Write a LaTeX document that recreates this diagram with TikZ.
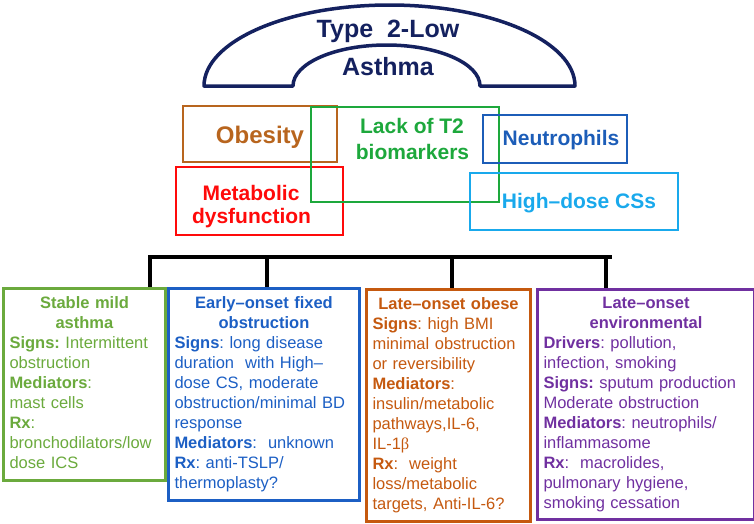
\documentclass[tikz,border=0pt]{standalone}
\usepackage{fontspec}
\setmainfont{Liberation Sans}
\newfontfamily\grkfont{Liberation Serif}
\setlength{\parindent}{0pt}
\frenchspacing
\definecolor{navy}{HTML}{14215F}
\definecolor{obes}{HTML}{B8651E}
\definecolor{ttwo}{HTML}{1DA83C}
\definecolor{neut}{HTML}{1C5DB8}
\definecolor{metab}{HTML}{FF0A0A}
\definecolor{hdose}{HTML}{19A9EC}
\definecolor{cgreen}{HTML}{6BAA3D}
\definecolor{cblue}{HTML}{1C5FC4}
\definecolor{corange}{HTML}{C5590F}
\definecolor{cpurple}{HTML}{7030A0}
\begin{document}
\begin{tikzpicture}[x=1pt,y=-1pt,
  titletext/.style={font=\bfseries\fontsize{25}{28}\selectfont, text=navy, inner sep=0pt, anchor=base},
  toplabel/.style={font=\bfseries\fontsize{21}{24}\selectfont, inner sep=0pt, anchor=base},
  tbox/.style={draw, line width=2.6pt, inner sep=0pt},
  cbox/.style={draw, line width=3pt, anchor=north west, inner xsep=6pt, inner ysep=0pt,
    font=\fontsize{16.5}{20}\selectfont, align=left},
  bar/.style={line width=4pt, black}]
\useasboundingbox (0,0) rectangle (754,523);

% arch
\draw[navy, line width=3.5pt, line join=round]
  (204,86) .. controls (204,41.3) and (287.1,5) .. (389.5,5)
  .. controls (491.9,5) and (575,41.3) .. (575,86) -- (480,86)
  .. controls (480,63.4) and (438.1,45) .. (386.5,45)
  .. controls (334.9,45) and (293,63.4) .. (293,86) -- cycle;
\node[titletext] (ttl1) at (388,37) {Type\ \ 2-Low};
\node[titletext] (ttl2) at (388,75) {Asthma};

% top boxes
\node[tbox, draw=obes, minimum width=154pt, minimum height=56pt] (obesity) at (260,134) {};
\node[tbox, draw=metab, minimum width=167pt, minimum height=68pt] (metabolic) at (259.5,201) {};
\node[tbox, draw=ttwo, minimum width=188pt, minimum height=95pt] (lackt2) at (405,154.5) {};
\node[tbox, draw=neut, minimum width=144pt, minimum height=48pt] (neutro) at (555,139) {};
\node[tbox, draw=hdose, minimum width=208pt, minimum height=57pt] (highdose) at (574,201.5) {};

\node[toplabel, text=obes, font=\bfseries\fontsize{24}{27}\selectfont] (obesitytxt) at (260,143) {Obesity};
\node[toplabel, text=metab] (metabtxt1) at (251,200) {Metabolic};
\node[toplabel, text=metab] (metabtxt2) at (251.5,223) {dysfunction};
\node[toplabel, text=ttwo] (t2txt1) at (412,133) {Lack of T2};
\node[toplabel, text=ttwo] (t2txt2) at (412.5,159) {biomarkers};
\node[toplabel, text=neut] (neuttxt) at (561,145) {Neutrophils};
\node[toplabel, text=hdose] (hdtxt) at (579,208) {High–dose CSs};

% bottom boxes
\node[cbox, draw=cgreen, text=cgreen, minimum width=162pt, minimum height=192pt, text width=150pt] (b1) at (2,287) {%
{\centering\strut\textbf{Stable mild}\par\textbf{asthma}\par}
\textbf{Signs:} Intermittent\\
obstruction\\
\textbf{Mediators}:\\
mast cells\\
\textbf{Rx}:\\
bronchodilators/low\\
dose ICS\strut};

\node[cbox, draw=cblue, text=cblue, minimum width=191pt, minimum height=212pt, text width=179pt] (b2) at (167,287) {%
{\centering\strut\textbf{Early–onset fixed}\par\textbf{obstruction}\par}
\textbf{Signs}: long disease\\
duration~ with High–\\
dose CS, moderate\\
obstruction/minimal BD\\
response\\
\textbf{Mediators}:~ unknown\\
\textbf{Rx}: anti-TSLP/\\
thermoplasty?\strut};

\node[cbox, draw=corange, text=corange, minimum width=164pt, minimum height=232pt, text width=152pt] (b3) at (365,288) {%
{\centering\strut\textbf{Late–onset obese}\par}
\textbf{Signs}: high BMI\\
minimal obstruction\\
or reversibility\\
\textbf{Mediators}:\\
insulin/metabolic\\
pathways,IL-6,\\
IL-1{\grkfont β}\\
\textbf{Rx}:~ weight\\
loss/metabolic\\
targets, Anti-IL-6?\strut};

\node[cbox, draw=cpurple, text=cpurple, minimum width=217pt, minimum height=230pt, text width=205pt] (b4) at (536,288) {%
{\centering\strut\textbf{Late–onset}\par\textbf{environmental}\par}
\textbf{Drivers}: pollution,\\
infection, smoking\\
\textbf{Signs:} sputum production\\
Moderate obstruction\\
\textbf{Mediators}: neutrophils/\\
inflammasome\\
\textbf{Rx}:~ macrolides,\\
pulmonary hygiene,\\
smoking cessation\strut};

% connectors
\coordinate (barL) at (148,257);
\coordinate (barR) at (612,257);
\coordinate (d1) at (150,257);
\coordinate (d2) at (267,257);
\coordinate (d3) at (452,257);
\coordinate (d4) at (606,257);
\draw[bar] (barL) -- (barR);
\draw[bar] (d1) -- (d1 |- b1.north);
\draw[bar] (d2) -- (d2 |- b2.north);
\draw[bar] (d3) -- (d3 |- b3.north);
\draw[bar] (d4) -- (d4 |- b4.north);
\end{tikzpicture}
\end{document}
